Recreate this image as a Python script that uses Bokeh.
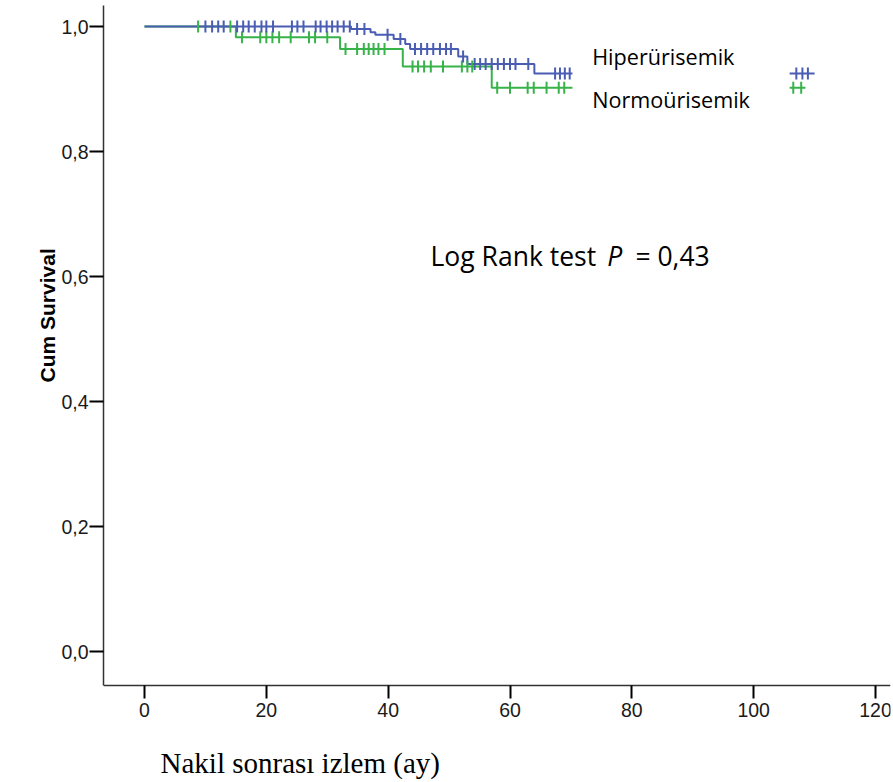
import numpy as np
from bokeh.plotting import figure
from bokeh.models import Range1d, FixedTicker, Label, BoxAnnotation, Title
from bokeh.embed import file_html
from bokeh.resources import INLINE

# ---- data ----
hiper_event_times = [0, 33.9, 37.1, 37.9, 40.9, 42.8, 43.6, 51.5, 53.0, 64.0, 110.0]
hiper_survival = [1.0, 0.996, 0.991, 0.987, 0.980, 0.972, 0.964, 0.952, 0.940, 0.925, 0.925]
hiper_censored = [10.0, 11.1, 12.1, 13.0, 15.2, 16.2, 17.1, 18.1, 19.2, 20.0, 21.1,
                  24.2, 25.1, 26.1, 28.1, 28.9, 29.9, 30.8, 31.7, 32.7, 33.7,
                  34.9, 36.1, 39.9, 42.0, 44.4, 45.4, 46.4, 47.4, 48.5, 49.5, 50.3,
                  52.3, 54.2, 55.1, 56.0, 57.0, 58.0, 59.0, 60.0, 60.9, 63.0,
                  67.4, 68.2, 69.0, 69.8, 107.0, 108.0, 108.9]

normo_event_times = [0, 15.0, 32.1, 42.4, 57.0, 108.5]
normo_survival = [1.0, 0.983, 0.964, 0.936, 0.902, 0.902]
normo_censored = [8.8, 14.1, 16.0, 19.0, 20.0, 21.0, 22.1, 24.0, 27.0, 28.0, 30.0,
                  33.0, 34.9, 36.0, 36.8, 37.6, 38.4, 39.4,
                  44.0, 44.9, 45.9, 47.0, 49.0, 52.1, 53.0, 53.8,
                  57.9, 60.0, 62.9, 63.9, 66.0, 68.0, 68.9, 106.5, 107.8]

x_ticks = [0, 20, 40, 60, 80, 100, 120]
y_ticks = [0.0, 0.2, 0.4, 0.6, 0.8, 1.0]
y_tick_labels = ["0,0", "0,2", "0,4", "0,6", "0,8", "1,0"]

group_names = ["Hiperürisemik", "Normoürisemik"]

BLUE = "#4a5db3"
GREEN = "#37b34a"

Y_AXIS_BOTTOM = -0.0544   # where the x axis crosses
Y_TOP = 1.0336


def surv_at(times, surv, t):
    idx = np.searchsorted(np.asarray(times), np.asarray(t), side="right") - 1
    return np.asarray(surv)[idx]


p = figure(width=893, height=782, output_backend="svg", toolbar_location=None,
           x_range=Range1d(-6.73, 122.46), y_range=Range1d(-0.2096, Y_TOP),
           min_border_left=103, min_border_right=3, min_border_top=5, min_border_bottom=0)
p.outline_line_color = None
p.xgrid.visible = False
p.ygrid.visible = False
p.background_fill_color = "white"

# curves
p.step(normo_event_times, normo_survival, mode="after", line_color=GREEN, line_width=2)
p.step(hiper_event_times, hiper_survival, mode="after", line_color=BLUE, line_width=2)
p.scatter(normo_censored, surv_at(normo_event_times, normo_survival, normo_censored),
          marker="dash", angle=np.pi / 2, size=12, line_color=GREEN, line_width=2)
p.scatter(hiper_censored, surv_at(hiper_event_times, hiper_survival, hiper_censored),
          marker="dash", angle=np.pi / 2, size=12, line_color=BLUE, line_width=2)

# white text box pasted over the curves (as in the reference)
p.add_layout(BoxAnnotation(left=70.25, right=105.9, bottom=0.85, top=0.975,
                           fill_color="white", fill_alpha=1.0, line_alpha=0))

# axes
for ax in (p.xaxis[0], p.yaxis[0]):
    ax.axis_line_color = "#333333"
    ax.axis_line_width = 1.5
    ax.major_tick_line_color = "black"
    ax.major_tick_line_width = 2
    ax.major_tick_in = 0
    ax.minor_tick_line_color = None
    ax.major_label_text_font = "Liberation Sans"
    ax.major_label_text_font_size = "19.5px"
    ax.major_label_text_color = "#1a1a1a"

p.xaxis.ticker = FixedTicker(ticks=x_ticks)
p.xaxis.major_tick_out = 13
p.xaxis.major_label_standoff = 4
p.xaxis.fixed_location = Y_AXIS_BOTTOM
p.yaxis.ticker = FixedTicker(ticks=y_ticks)
p.yaxis.major_tick_out = 14
p.yaxis.major_label_standoff = 1
p.yaxis.major_label_overrides = dict(zip(y_ticks, y_tick_labels))
p.yaxis.bounds = (Y_AXIS_BOTTOM, Y_TOP)

# legend texts
p.add_layout(Label(x=73.49, y=0.9528, text=group_names[0], text_font="Open Sans",
                   text_font_size="21.6px", text_color="black", text_baseline="alphabetic"))
p.add_layout(Label(x=73.49, y=0.8835, text=group_names[1], text_font="Open Sans",
                   text_font_size="21.6px", text_color="black", text_baseline="alphabetic"))

# log rank annotation
p.add_layout(Label(x=46.95, y=0.633, text="Log Rank test", text_font="Open Sans",
                   text_font_size="26.5px", text_color="black", text_baseline="alphabetic"))
p.add_layout(Label(x=75.95, y=0.633, text="P", text_font="Open Sans", text_font_style="italic",
                   text_font_size="26.5px", text_color="black", text_baseline="alphabetic"))
p.add_layout(Label(x=80.58, y=0.633, text="= 0,43", text_font="Open Sans",
                   text_font_size="26.5px", text_color="black", text_baseline="alphabetic"))

# axis titles
p.add_layout(Title(text="Cum Survival", align="left", offset=400, standoff=0,
                   text_font="Liberation Sans", text_font_style="bold",
                   text_font_size="21px", text_color="black"), "left")
p.add_layout(Label(x=2.63, y=-0.178, text="Nakil sonrası izlem (ay)",
                   text_font="Liberation Serif", text_font_size="29px",
                   text_color="black", text_baseline="alphabetic"))

open("out.html", "w").write(file_html(p, INLINE))
